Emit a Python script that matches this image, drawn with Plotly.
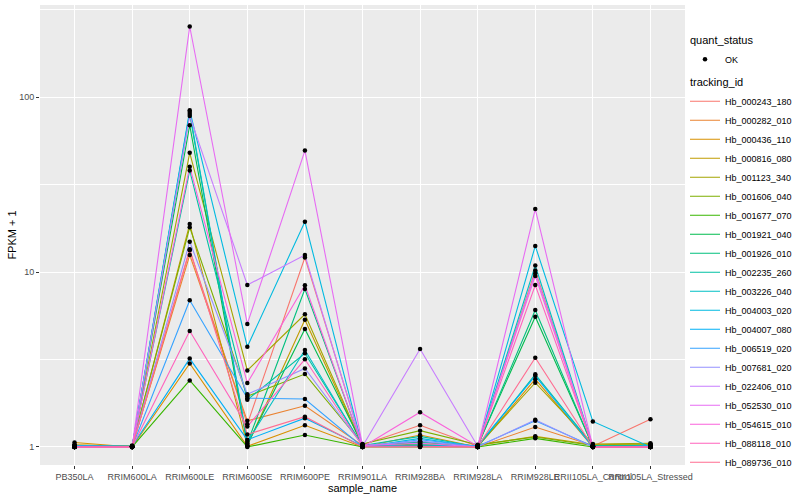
import plotly.graph_objects as go

samples = ["PB350LA", "RRIM600LA", "RRIM600LE", "RRIM600SE", "RRIM600PE", "RRIM901LA",
           "RRIM928BA", "RRIM928LA", "RRIM928LE", "RRII105LA_Control", "RRII105LA_Stressed"]

# FPKM + 1 per sample, per tracking id
hb_000243_180 = [1.00, 1.00, 13.3, 1.35, 12.1, 1.03, 1.33, 1.01, 10.2, 1.01, 1.44]
hb_000282_010 = [1.01, 1.01, 12.5, 1.41, 1.72, 1.02, 1.02, 1.00, 1.30, 1.02, 1.01]
hb_000436_110 = [1.06, 1.00, 3.0, 1.01, 1.33, 1.00, 1.17, 1.00, 2.44, 1.00, 1.02]
hb_000816_080 = [1.03, 1.01, 18.8, 1.02, 5.34, 1.01, 1.04, 1.02, 1.15, 1.03, 1.04]
hb_001123_340 = [1.02, 1.00, 48.0, 2.74, 5.73, 1.02, 1.06, 1.01, 2.33, 1.04, 1.05]
hb_001606_040 = [1.01, 1.02, 18.0, 1.95, 2.61, 1.04, 1.24, 1.03, 1.14, 1.02, 1.03]
hb_001677_070 = [1.00, 1.00, 2.4, 1.00, 1.17, 1.00, 1.00, 1.00, 1.12, 1.00, 1.00]
hb_001921_040 = [1.02, 1.01, 69.0, 1.03, 4.72, 1.03, 1.02, 1.02, 5.55, 1.01, 1.02]
hb_001926_010 = [1.01, 1.00, 80.0, 1.05, 8.0, 1.01, 1.07, 1.01, 6.06, 1.00, 1.01]
hb_002235_260 = [1.00, 1.01, 38.0, 1.86, 3.43, 1.02, 1.15, 1.00, 2.60, 1.02, 1.00]
hb_003226_040 = [1.01, 1.00, 82.0, 1.07, 3.58, 1.01, 1.03, 1.01, 10.9, 1.01, 1.02]
hb_004003_020 = [1.00, 1.00, 84.0, 3.74, 19.4, 1.00, 1.12, 1.00, 14.1, 1.40, 1.00]
hb_004007_080 = [1.02, 1.01, 3.2, 1.10, 1.46, 1.01, 1.01, 1.02, 2.55, 1.00, 1.01]
hb_006519_020 = [1.00, 1.00, 6.9, 1.90, 1.88, 1.00, 1.10, 1.01, 1.41, 1.01, 1.00]
hb_007681_020 = [1.01, 1.01, 14.9, 2.00, 2.81, 1.02, 1.08, 1.00, 1.43, 1.00, 1.01]
hb_022406_010 = [1.00, 1.00, 78.0, 8.43, 12.5, 1.01, 3.63, 1.01, 9.85, 1.01, 1.00]
hb_052530_010 = [1.00, 1.00, 253.0, 5.05, 49.4, 1.02, 1.05, 1.00, 22.9, 1.00, 1.00]
hb_054615_010 = [1.00, 1.00, 40.0, 2.32, 8.4, 1.00, 1.58, 1.01, 9.5, 1.00, 1.00]
hb_088118_010 = [1.00, 1.00, 4.6, 1.31, 3.17, 1.01, 1.01, 1.00, 8.42, 1.00, 1.00]
hb_089736_010 = [1.00, 1.00, 13.5, 1.18, 1.49, 1.00, 1.00, 1.00, 3.24, 1.00, 1.00]

tracking_ids = ["Hb_000243_180", "Hb_000282_010", "Hb_000436_110", "Hb_000816_080",
                "Hb_001123_340", "Hb_001606_040", "Hb_001677_070", "Hb_001921_040",
                "Hb_001926_010", "Hb_002235_260", "Hb_003226_040", "Hb_004003_020",
                "Hb_004007_080", "Hb_006519_020", "Hb_007681_020", "Hb_022406_010",
                "Hb_052530_010", "Hb_054615_010", "Hb_088118_010", "Hb_089736_010"]
values = [hb_000243_180, hb_000282_010, hb_000436_110, hb_000816_080, hb_001123_340,
          hb_001606_040, hb_001677_070, hb_001921_040, hb_001926_010, hb_002235_260,
          hb_003226_040, hb_004003_020, hb_004007_080, hb_006519_020, hb_007681_020,
          hb_022406_010, hb_052530_010, hb_054615_010, hb_088118_010, hb_089736_010]
colors = ["#F8766D", "#EA8331", "#D89000", "#C09B00", "#A3A500", "#7CAE00", "#39B600",
          "#00BB4E", "#00BF7D", "#00C1A3", "#00BFC4", "#00BAE0", "#00B0F6", "#35A2FF",
          "#9590FF", "#C77CFF", "#E76BF3", "#FA62DB", "#FF62BC", "#FF6C91"]

FONT = "Liberation Sans, Arial, sans-serif"
fig = go.Figure()

for i, (tid, vals, col) in enumerate(zip(tracking_ids, values, colors)):
    fig.add_trace(go.Scatter(
        x=samples, y=vals, mode="lines", name=tid,
        line=dict(color=col, width=1.1),
        legendgroup="tracking_id",
        legendgrouptitle=dict(text="tracking_id", font=dict(size=11, color="black")) if i == 0 else None,
        legendrank=10 + i,
    ))

all_x = [s for vals in values for s in samples]
all_y = [v for vals in values for v in vals]
fig.add_trace(go.Scatter(
    x=all_x, y=all_y, mode="markers", name="OK",
    marker=dict(color="black", size=4.5),
    legendgroup="quant_status",
    legendgrouptitle=dict(text="quant_status", font=dict(size=11, color="black")),
    legendrank=1,
))

fig.update_layout(
    width=800, height=500,
    margin=dict(l=40, r=115, t=5, b=35, autoexpand=False),
    paper_bgcolor="white", plot_bgcolor="#EBEBEB",
    font=dict(family=FONT, size=9, color="#4D4D4D"),
    showlegend=True,
    legend=dict(
        x=1.0, y=0.955, xanchor="left", yanchor="top",
        font=dict(size=9, color="black"),
        traceorder="grouped", tracegroupgap=4,
        bgcolor="rgba(0,0,0,0)",
    ),
    xaxis=dict(
        type="category", categoryorder="array", categoryarray=samples,
        range=[-0.6, len(samples) - 0.4],
        showgrid=True, gridcolor="white", gridwidth=1.1,
        ticks="outside", ticklen=3, tickcolor="#333333", tickwidth=1,
        tickangle=0, tickfont=dict(size=9, color="#4D4D4D"),
        title=dict(text="sample_name", font=dict(size=11, color="black"), standoff=0),
        zeroline=False, showline=False, automargin=False,
    ),
    yaxis=dict(
        type="log", range=[-0.103, 2.526],
        tickmode="array", tickvals=[1, 10, 100], ticktext=["1", "10", "100"],
        showgrid=True, gridcolor="white", gridwidth=1.1,
        minor=dict(tickmode="array", tickvals=[3.1623, 31.623, 316.23],
                   showgrid=True, gridcolor="white", gridwidth=0.55, ticks=""),
        ticks="outside", ticklen=3, tickcolor="#333333", tickwidth=1,
        tickfont=dict(size=9, color="#4D4D4D"),
        title=dict(text="FPKM + 1", font=dict(size=11, color="black"), standoff=0),
        zeroline=False, showline=False, automargin=False,
    ),
)

fig.write_html("out.html", config={"displayModeBar": False},
               post_script="document.body.style.margin='0px';")
